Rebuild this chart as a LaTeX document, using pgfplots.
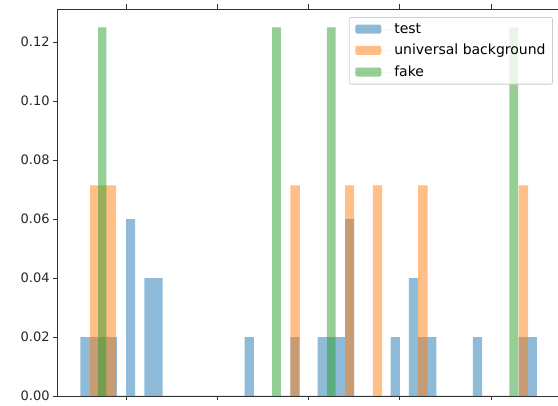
\documentclass[border=0pt]{standalone}
\usepackage{fontspec}
\setmainfont{DejaVu Sans}
\usepackage{pgfplots}
\pgfplotsset{compat=1.18}
\definecolor{mplblue}{HTML}{1F77B4}
\definecolor{mplorange}{HTML}{FF7F0E}
\definecolor{mplgreen}{HTML}{2CA02C}
\begin{document}
\begin{tikzpicture}
\begin{axis}[
  at={(0,0)}, anchor=south west,
  scale only axis, width=502pt, height=387pt,
  xmin=-2.5, xmax=52.5, ymin=0, ymax=0.13125,
  axis x line=box, axis y line=left,
  axis line style={black!80, line width=0.9pt, -},
  xtick={5,15,25,35,45}, xticklabels={},
  ytick={0,0.02,0.04,0.06,0.08,0.10,0.12},
  scaled y ticks=false,
  yticklabel style={/pgf/number format/.cd, fixed, fixed zerofill, precision=2},
  /pgf/number format/assume math mode=true,
  tick align=outside, major tick length=4.5pt,
  tick style={black!80, line width=0.9pt},
  tick label style={font=\fontsize{13}{15}\selectfont, text=black!85},
  legend cell align=left,
  legend image code/.code={\fill[#1, draw=none] (0pt,-4.5pt) rectangle (26pt,4.5pt);
    \path (-2pt,0pt) -- (36pt,0pt);},
  legend style={at={(0.9868,0.979)}, anchor=north east, draw=black!20, line width=0.8pt,
    rounded corners=2pt, fill=white, fill opacity=0.8, text opacity=1,
    font=\fontsize{14}{16}\selectfont, row sep=7.5pt, inner xsep=4pt, inner ysep=5pt,
    nodes={fill=none, inner xsep=3pt, inner ysep=1pt}},
]
\addplot[ybar interval, fill=mplblue, fill opacity=0.5, draw=none] coordinates {
 (0,0.02) (4,0) (5,0.06) (6,0) (7,0.04) (9,0) (18,0.02) (19,0) (23,0.02) (24,0)
 (26,0.02) (29,0.06) (30,0) (34,0.02) (35,0) (36,0.04) (37,0.02) (39,0)
 (43,0.02) (44,0) (48,0.02) (50,0)};
\addlegendentry{test}
\addplot[ybar interval, fill=mplorange, fill opacity=0.5, draw=none] coordinates {
 (1.05,0.0714) (3.9,0) (23,0.0714) (24.05,0) (29,0.0714) (30,0) (32.05,0.0714) (33.05,0)
 (37,0.0714) (38.05,0) (48,0.0714) (49.05,0)};
\addlegendentry{universal background}
\addplot[ybar interval, fill=mplgreen, fill opacity=0.5, draw=none] coordinates {
 (1.95,0.125) (2.85,0) (21,0.125) (21.95,0) (27,0.125) (27.95,0) (47,0.125) (47.95,0)};
\addlegendentry{fake}
\end{axis}
\pgfresetboundingbox
\path[use as bounding box] (-57.6pt,-10pt) rectangle (500.4pt,396pt);
\end{tikzpicture}
\end{document}
